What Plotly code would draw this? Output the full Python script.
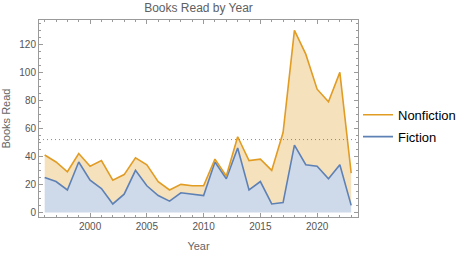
import plotly.graph_objects as go

years = list(range(1996, 2024))
fiction = [25, 22, 16, 36, 23, 17, 6, 13, 30, 19, 12, 8, 14, 13, 12, 36, 24, 46, 16, 22, 6, 7, 48, 34, 33, 24, 34, 5]
total = [41, 36, 29, 42, 33, 37, 23, 27, 39, 34, 22, 16, 20, 19, 19, 38, 26, 54, 37, 38, 30, 57, 130, 113, 88, 79, 100, 28]
nonfiction = [t - f for t, f in zip(total, fiction)]
reference_level = 52

blue = "#5E81B5"
orange = "#E19C24"
gray = "#9a9a9a"
text_gray = "#555555"
font_family = "Liberation Sans, Arial, sans-serif"

fig = go.Figure()
fig.add_trace(go.Scatter(x=years, y=fiction, name="Fiction", stackgroup="one",
                         line=dict(color=blue, width=1.6), fillcolor="rgba(94,129,181,0.3)",
                         mode="lines", showlegend=False))
fig.add_trace(go.Scatter(x=years, y=nonfiction, name="Nonfiction", stackgroup="one",
                         line=dict(color=orange, width=1.6), fillcolor="rgba(225,156,36,0.3)",
                         mode="lines", showlegend=False))
# legend entries (line only)
fig.add_trace(go.Scatter(x=[None], y=[None], name="Nonfiction", mode="lines",
                         line=dict(color=orange, width=1.6), legendgroup="n"))
fig.add_trace(go.Scatter(x=[None], y=[None], name="Fiction", mode="lines",
                         line=dict(color=blue, width=1.6), legendgroup="f"))

fig.add_shape(type="line", xref="paper", yref="y", x0=0, x1=1, y0=reference_level, y1=reference_level,
              line=dict(color="#8a8a8a", width=1, dash="1px,3px"), layer="above")

axis_common = dict(showline=True, linecolor=gray, linewidth=1, mirror="ticks", ticks="inside",
                   tickcolor=gray, ticklen=4, tickwidth=1, showgrid=False, zeroline=False,
                   automargin=False,
                   tickfont=dict(family=font_family, size=10, color=text_gray))

fig.update_xaxes(**axis_common, range=[1995.5, 2023.6], tick0=2000, dtick=5,
                 minor=dict(dtick=1, ticklen=2, tickcolor=gray, ticks="inside", showgrid=False),
                 title=dict(text="Year", font=dict(family=font_family, size=11, color="#666666"), standoff=11))
fig.update_yaxes(**axis_common, range=[-3.3, 137.4], tick0=0, dtick=20,
                 minor=dict(dtick=5, ticklen=2, tickcolor=gray, ticks="inside", showgrid=False))

fig.add_annotation(text="Books Read", textangle=-90, xref="paper", yref="paper",
                   x=(5 - 39) / 319, y=0.5, xanchor="center", yanchor="middle", showarrow=False,
                   font=dict(family=font_family, size=11, color="#666666"))

fig.update_layout(
    width=460, height=254,
    margin=dict(l=39, r=102, t=20, b=37, autoexpand=False),
    paper_bgcolor="white", plot_bgcolor="white",
    title=dict(text="Books Read by Year", x=0.5, xref="paper", y=1 - 8 / 254, yref="container",
               xanchor="center", yanchor="middle",
               font=dict(family=font_family, size=12, color="#606060")),
    legend=dict(x=1.0, xanchor="left", y=0.463, yanchor="middle", traceorder="grouped",
                tracegroupgap=2,
                font=dict(family=font_family, size=13, color="black"),
                bgcolor="rgba(0,0,0,0)", itemwidth=30),
    showlegend=True,
)

fig.write_html("out.html")
